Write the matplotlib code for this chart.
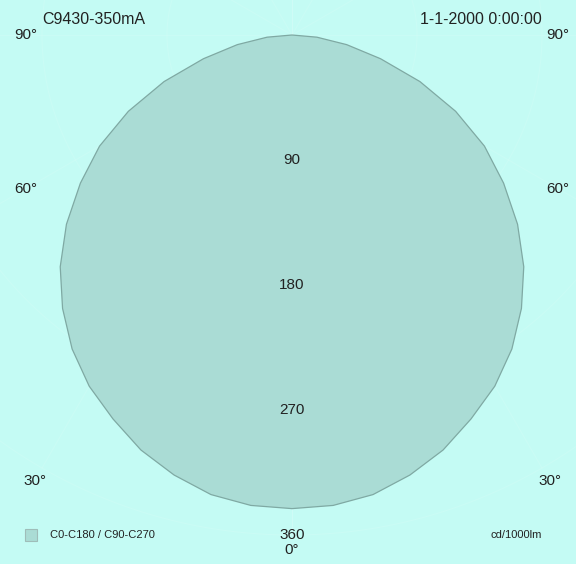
import numpy as np
import matplotlib
matplotlib.use("Agg")
import matplotlib.pyplot as plt

plt.rcParams['font.family'] = ['Liberation Sans', 'DejaVu Sans']

# luminous intensity (cd/1000lm) vs gamma angle, same for C0-C180 and C90-C270
gamma = [0, 5, 10, 15, 20, 25, 30, 35, 40, 45, 50, 55, 60, 65, 70, 75, 80, 85, 90]
intensity = [341, 340, 336, 328, 318, 305, 292, 276, 257, 236, 212, 186, 160,
             130, 98, 66, 40, 18, 0]
rings = [90, 180, 270, 360]
angle_labels = [90, 60, 30]
title = "C9430-350mA"
date = "1-1-2000 0:00:00"
legend_label = "C0-C180 / C90-C270"
unit = "cd/1000lm"

bg = '#c4fbf4'
fill = '#aadcd5'
edge = '#7fa9a3'
txt = '#222222'

px = 125 / 90.0  # pixels per cd
fig = plt.figure(figsize=(5.76, 5.64), dpi=100, facecolor=bg)
ax = fig.add_axes([0, 0, 1, 1])
ax.set_facecolor(bg)
ax.set_xlim(-292 / px, (576 - 292) / px)
ax.set_ylim(-(564 - 35) / px, 35 / px)
ax.set_aspect('equal')
ax.axis('off')

# faint grid
t = np.linspace(0, 2 * np.pi, 361)
for r in rings:
    ax.plot(r * np.sin(t), -r * np.cos(t), color='white', lw=0.8, alpha=0.1, zorder=1)
for a in range(0, 181, 30):
    ar = np.radians(a)
    for s in (-1, 1):
        ax.plot([0, s * 360 * np.sin(ar)], [0, -360 * np.cos(ar)],
                color='white', lw=0.8, alpha=0.1, zorder=1)

# intensity curve, both halves
g = np.radians(gamma)
I = np.array(intensity)
xr = I * np.sin(g)
yr = -I * np.cos(g)
xs = np.concatenate([-xr[::-1], xr[1:]])
ys = np.concatenate([yr[::-1], yr[1:]])
ax.fill(xs, ys, facecolor=fill, edgecolor=edge, lw=0.9, zorder=2)

# ring labels
for r in rings:
    ax.text(0, -r, str(r), ha='center', va='center', fontsize=11, color=txt, zorder=3)
ax.text(0, -515 / px, "0°", ha='center', va='center', fontsize=11, color=txt)

# angle labels
R_lab = 515 / px
x_lim = 266 / px
for a in angle_labels:
    ar = np.radians(a)
    r = min(R_lab, x_lim / np.sin(ar))
    for s in (-1, 1):
        ax.text(s * r * np.sin(ar), -r * np.cos(ar), f"{a}°", ha='center',
                va='center', fontsize=11, color=txt)

# header and footer
fig.text(42 / 576, 1 - 20 / 564, title, ha='left', va='center', fontsize=11.5, color=txt)
fig.text(542 / 576, 1 - 20 / 564, date, ha='right', va='center', fontsize=11.5, color=txt)
fig.patches.append(plt.Rectangle((25 / 576, 1 - 541 / 564), 12 / 576, 12 / 564,
                                 transform=fig.transFigure, facecolor=fill,
                                 edgecolor='#9fbdb9', lw=0.8))
fig.text(50 / 576, 1 - 535 / 564, legend_label, ha='left', va='center', fontsize=8, color=txt)
fig.text(542 / 576, 1 - 535 / 564, unit, ha='right', va='center', fontsize=8, color=txt)

fig.savefig('out.png', dpi=100, facecolor=bg)
